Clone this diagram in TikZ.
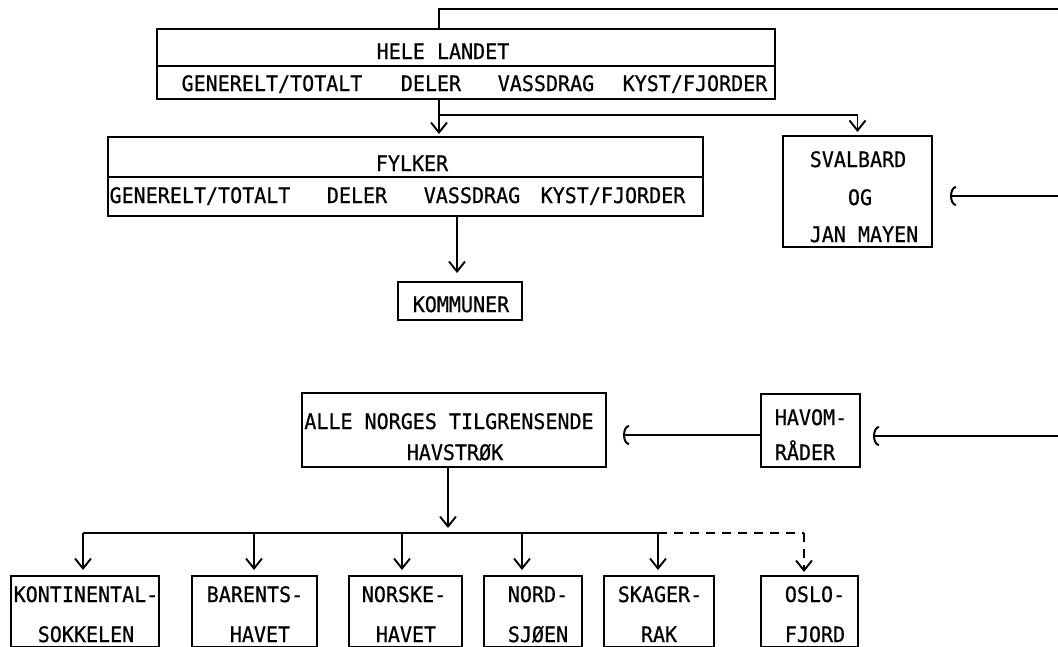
\documentclass[tikz,border=0pt]{standalone}
\usepackage{fontspec}
\newfontfamily\tw[FakeStretch=0.94,FakeBold=0.6]{DejaVu Sans Mono}
\usetikzlibrary{arrows.meta}
\begin{document}
\begin{tikzpicture}[x=1pt,y=-1pt,
  box/.style={draw,line width=1.8pt,inner sep=0pt,outer sep=0pt},
  txt/.style={font=\tw\fontsize{21.3}{24}\selectfont,anchor=base,inner sep=0pt},
  ln/.style={line width=1.6pt},
  arr/.style={ln,-{Straight Barb[length=10pt,width=16pt,line width=1.9pt]}},
  larr/.style={ln,-{Arc Barb[length=6pt,width=20pt,line width=2pt]}},
  dsh/.style={ln,dash pattern=on 9pt off 7pt}]
\fill[white] (0,0) rectangle (1058,646);
\useasboundingbox (0,0) rectangle (1058,646);
% boxes
\node[box,minimum width=618pt,minimum height=70pt] (hele) at (466,64) {};
\draw[ln] (157,66) -- (775,66);
\node[box,minimum width=595pt,minimum height=79pt] (fylker) at (405.5,176.5) {};
\draw[ln] (108,177) -- (703,177);
\node[box,minimum width=124pt,minimum height=38pt] (komm) at (460,301) {};
\node[box,minimum width=149pt,minimum height=111pt] (sval) at (857.5,191.5) {};
\node[box,minimum width=304pt,minimum height=74pt] (alle) at (454,430) {};
\node[box,minimum width=99pt,minimum height=73pt] (hav) at (810.5,430.5) {};
\node[box,minimum width=148pt,minimum height=71pt] (b1) at (85,611.5) {};
\node[box,minimum width=125pt,minimum height=71pt] (b2) at (254.5,611.5) {};
\node[box,minimum width=113pt,minimum height=71pt] (b3) at (405.5,611.5) {};
\node[box,minimum width=98pt,minimum height=71pt] (b4) at (533,611.5) {};
\node[box,minimum width=110pt,minimum height=71pt] (b5) at (659,611.5) {};
\node[box,minimum width=97pt,minimum height=71pt] (b6) at (809.5,611.5) {};
% texts
\node[txt] (t1) at (443,59) {HELE LANDET};
\node[txt] (t2) at (272,91) {GENERELT/TOTALT};
\node[txt] (t3) at (431,91) {DELER};
\node[txt] (t4) at (546,91) {VASSDRAG};
\node[txt] (t5) at (695,91) {KYST/FJORDER};
\node[txt] (t6) at (412,171) {FYLKER};
\node[txt] (t7) at (200,203) {GENERELT/TOTALT};
\node[txt] (t8) at (357,203) {DELER};
\node[txt] (t9) at (472,203) {VASSDRAG};
\node[txt] (t10) at (613,203) {KYST/FJORDER};
\node[txt] (t11) at (461,312) {KOMMUNER};
\node[txt] (t12) at (858,167) {SVALBARD};
\node[txt] (t13) at (860,205) {OG};
\node[txt] (t14) at (864,242) {JAN MAYEN};
\node[txt] (t15) at (449,429) {ALLE NORGES TILGRENSENDE};
\node[txt] (t16) at (455,460) {HAVSTRØK};
\node[txt] (t17) at (811,425) {HAVOM-};
\node[txt] (t18) at (805,460) {RÅDER};
\node[txt] (t19) at (86,602) {KONTINENTAL-};
\node[txt] (t20) at (86,642) {SOKKELEN};
\node[txt] (t21) at (255,602) {BARENTS-};
\node[txt] (t22) at (260,642) {HAVET};
\node[txt] (t23) at (404,602) {NORSKE-};
\node[txt] (t24) at (406,642) {HAVET};
\node[txt] (t25) at (538,602) {NORD-};
\node[txt] (t26) at (538,642) {SJØEN};
\node[txt] (t27) at (660,602) {SKAGER-};
\node[txt] (t28) at (659,642) {RAK};
\node[txt] (t29) at (815,602) {OSLO-};
\node[txt] (t30) at (815,642) {FJORD};
% connectors top
\coordinate (top1) at (439,9);
\coordinate (topr) at (1058,9);
\draw[ln] (hele.north -| top1) -- (top1) -- (topr);
\coordinate (hb) at (439,115);
\draw[ln] (hele.south -| hb) -- (hb) -- (hb -| sval);
\draw[arr,shorten >=3pt] (hb) -- (hb |- fylker.north);
\draw[arr,shorten >=4pt] (hb -| sval) -- (sval.north);
\coordinate (fk) at (457,216);
\draw[arr,shorten >=9pt] (fylker.south -| fk) -- (fk |- komm.north);
\coordinate (r1) at (1058,196);
\draw[larr,shorten >=18pt] (r1) -- (r1 -| sval.east);
\coordinate (r2) at (1058,436);
\draw[larr,shorten >=13pt] (r2) -- (r2 -| hav.east);
\coordinate (m) at (700,435);
\draw[larr,shorten >=17pt] (hav.west |- m) -- (alle.east |- m);
% bottom tree
\coordinate (br) at (448,533);
\draw[arr] (alle.south -| br) -- ([yshift=5pt]br);
\coordinate (j1) at (83,533);
\coordinate (j2) at (254,533);
\coordinate (j3) at (402,533);
\coordinate (j4) at (522,533);
\coordinate (j5) at (658,533);
\coordinate (j6) at (804,533);
\draw[ln] (j1) -- (j5);
\draw[dsh] (j5) -- (j6);
\draw[arr,shorten >=6pt] (j1) -- (j1 |- b1.north);
\draw[arr,shorten >=6pt] (j2) -- (j2 |- b2.north);
\draw[arr,shorten >=6pt] (j3) -- (j3 |- b3.north);
\draw[arr,shorten >=6pt] (j4) -- (j4 |- b4.north);
\draw[arr,shorten >=6pt] (j5) -- (j5 |- b5.north);
\draw[dsh,-{Straight Barb[length=10pt,width=16pt,line width=1.9pt]},shorten >=4pt] (j6) -- (j6 |- b6.north);
\end{tikzpicture}
\end{document}
